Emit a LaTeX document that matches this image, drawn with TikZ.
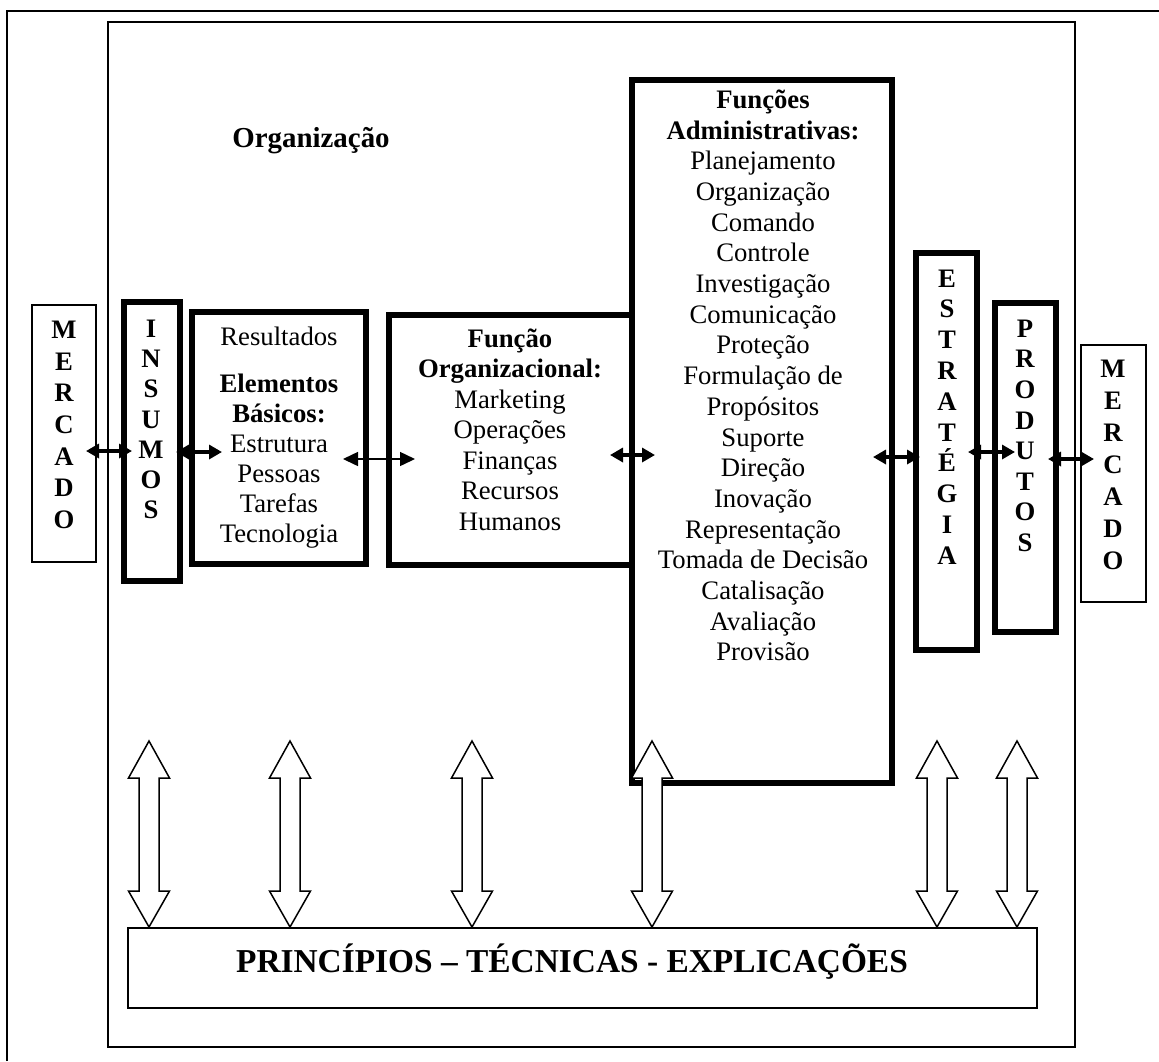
\documentclass[tikz,border=0pt]{standalone}
\usepackage{fontspec}
\setmainfont{Liberation Serif}
\usetikzlibrary{arrows.meta}
\newcommand\fsz[2]{\fontsize{#1}{#2}\selectfont}
\begin{document}
\begin{tikzpicture}[x=1pt,y=-1pt,
  thinbox/.style={draw, line width=2pt, inner sep=0pt},
  thickbox/.style={draw, line width=6pt, inner sep=0pt},
  lbl/.style={anchor=north, inner sep=0pt, align=center, execute at begin node=\strut},
  link/.style={line width=3.5pt, {Triangle[length=13pt,width=14pt]}-{Triangle[length=13pt,width=14pt]}},
  thinlink/.style={line width=1.5pt, {Triangle[length=15pt,width=14pt]}-{Triangle[length=15pt,width=14pt]}},
  updown/.pic={\draw[line width=1.5pt, fill=white, line join=miter]
      (0,0) -- (-20.5,-36) -- (-10,-36) -- (-10,-149) -- (-20.5,-149) -- (0,-186)
      -- (20.5,-149) -- (10,-149) -- (10,-36) -- (20.5,-36) -- cycle;}
]
\useasboundingbox (0,0) rectangle (1159,1061);
\fill[white] (0,0) rectangle (1159,1061);

% outer frame and the organisation boundary
\draw[line width=2pt] (7,1061) -- (7,11) -- (1159,11);
\draw[line width=2pt] (108,22) rectangle (1075,1047);

% boxes
\node[thinbox, minimum width=64pt, minimum height=257pt] (mercL) at (64,433.5) {};
\node[thickbox, minimum width=56pt, minimum height=279pt] (insumos) at (152,441.5) {};
\node[thickbox, minimum width=174pt, minimum height=252pt] (elem) at (279,438) {};
\node[thickbox, minimum width=243pt, minimum height=250pt] (funcOrg) at (510.5,440) {};
\node[thickbox, minimum width=260pt, minimum height=703pt] (funcAdm) at (762,431.5) {};
\node[thickbox, minimum width=61pt, minimum height=397pt] (estr) at (946.5,451.5) {};
\node[thickbox, minimum width=61pt, minimum height=329pt] (prod) at (1025.5,467.5) {};
\node[thinbox, minimum width=65pt, minimum height=257pt] (mercR) at (1113.5,473.5) {};
\node[thinbox, minimum width=909pt, minimum height=80pt] (princ) at (582.5,968) {};

% texts
\node[anchor=base, inner sep=0pt, font=\bfseries\fsz{28.9}{33}] (orgLabel) at (311,147) {Organização};
\node[lbl, font=\bfseries\fsz{26.7}{31.7}] (mercLtxt) at (64,320.8) {M\\E\\R\\C\\A\\D\\O};
\node[lbl, font=\bfseries\fsz{26.7}{30.2}] (insumosTxt) at (151,319.9) {I\\N\\S\\U\\M\\O\\S};
\node[lbl, font=\fsz{26.7}{30}] (elemTxt) at (279,327) {Resultados\\[17pt]\textbf{Elementos}\\\textbf{Básicos:}\\Estrutura\\Pessoas\\Tarefas\\Tecnologia};
\node[lbl, font=\fsz{26.7}{30.5}] (funcOrgTxt) at (510,328.6) {\textbf{Função}\\\textbf{Organizacional:}\\Marketing\\Operações\\Finanças\\Recursos\\Humanos};
\node[lbl, font=\fsz{26.7}{30.7}] (funcAdmTxt) at (763,89.5) {\textbf{Funções}\\\textbf{Administrativas:}\\Planejamento\\Organização\\Comando\\Controle\\Investigação\\Comunicação\\Proteção\\Formulação de\\Propósitos\\Suporte\\Direção\\Inovação\\Representação\\Tomada de Decisão\\Catalisação\\Avaliação\\Provisão};
\node[lbl, font=\bfseries\fsz{26.7}{30.8}] (estrTxt) at (947,269.4) {E\\S\\T\\R\\A\\T\\É\\G\\I\\A};
\node[lbl, font=\bfseries\fsz{26.7}{30.6}] (prodTxt) at (1025,319.6) {P\\R\\O\\D\\U\\T\\O\\S};
\node[lbl, font=\bfseries\fsz{26.7}{32}] (mercRTxt) at (1113,359.6) {M\\E\\R\\C\\A\\D\\O};
\node[anchor=base, inner sep=0pt, font=\bfseries\fsz{33.4}{38}] (princTxt) at (572,972) {PRINCÍPIOS – TÉCNICAS - EXPLICAÇÕES};

% exchanges between neighbouring boxes
\draw[link] ([shift={(-11,17.5)}]mercL.east) -- ([shift={(11,9.5)}]insumos.west);
\draw[link] ([shift={(-7,10.5)}]insumos.east) -- ([shift={(33,14)}]elem.west);
\draw[thinlink] ([shift={(-26,21)}]elem.east) -- ([shift={(29,19)}]funcOrg.west);
\draw[link] ([shift={(-25,15)}]funcOrg.east) -- ([shift={(26,23.5)}]funcAdm.west);
\draw[link] ([shift={(-22,25.5)}]funcAdm.east) -- ([shift={(7,5.5)}]estr.west);
\draw[link] ([shift={(-12,0.5)}]estr.east) -- ([shift={(23,-15.5)}]prod.west);
\draw[link] ([shift={(-11,-8.5)}]prod.east) -- ([shift={(14,-14.5)}]mercR.west);

% hollow two-way arrows onto the principles bar
\pic (h1) at (149,0 |- princ.north) {updown};
\pic (h2) at (290,0 |- princ.north) {updown};
\pic (h3) at (472,0 |- princ.north) {updown};
\pic (h4) at (652,0 |- princ.north) {updown};
\pic (h5) at (937,0 |- princ.north) {updown};
\pic (h6) at (1017,0 |- princ.north) {updown};
\end{tikzpicture}
\end{document}
